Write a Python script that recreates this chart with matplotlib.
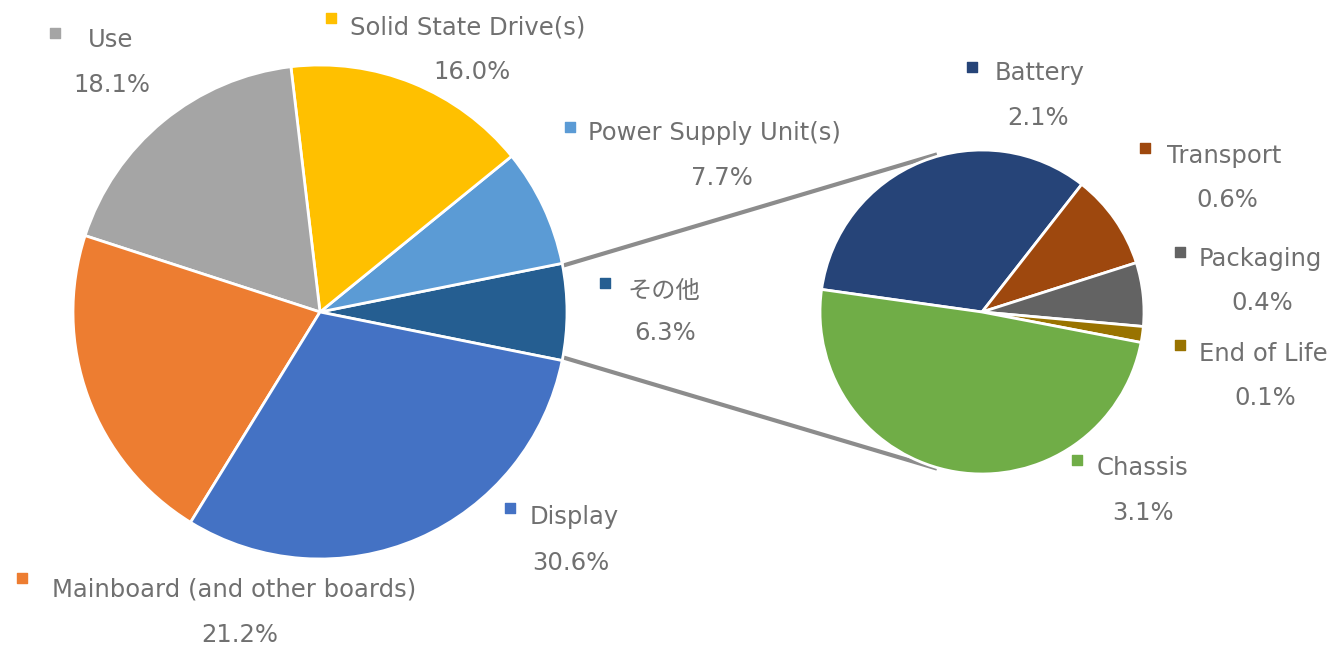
import matplotlib
matplotlib.use("Agg")
import matplotlib.pyplot as plt

plt.rcParams['font.family'] = ['DejaVu Sans', 'Noto Sans CJK JP']

# main pie (counter-clockwise from the right)
main_labels = ["その他", "Power Supply Unit(s)", "Solid State Drive(s)", "Use",
               "Mainboard (and other boards)", "Display"]
main_values = [6.3, 7.7, 16.0, 18.1, 21.2, 30.6]
main_colors = ["#255E91", "#5B9BD5", "#FFC000", "#A5A5A5", "#ED7D31", "#4472C4"]

# breakdown of "その他" (clockwise)
sub_labels = ["Battery", "Transport", "Packaging", "End of Life", "Chassis"]
sub_values = [2.1, 0.6, 0.4, 0.1, 3.1]
sub_colors = ["#264478", "#9E480E", "#636363", "#997300", "#70AD47"]

W, H = 1337, 650
fig = plt.figure(figsize=(W / 100, H / 100), dpi=100)
ax = fig.add_axes([0, 0, 1, 1])
ax.set_xlim(0, W)
ax.set_ylim(0, H)
ax.set_aspect("equal")
ax.axis("off")

def py(y):
    # pixel row -> data y
    return H - y

main_c = (320, py(312))
sub_c = (982, py(312))
main_r = 247
sub_r = 162

start = -main_values[0] / 2 * 3.6
ax.pie(main_values, colors=main_colors, center=main_c, radius=main_r,
       startangle=start, counterclock=True,
       wedgeprops=dict(edgecolor="white", linewidth=2))
ax.pie(sub_values, colors=sub_colors, center=sub_c, radius=sub_r,
       startangle=172, counterclock=False,
       wedgeprops=dict(edgecolor="white", linewidth=2))
ax.set_xlim(0, W)
ax.set_ylim(0, H)

# connector lines
ax.plot([565, 935], [py(265), py(155)], color="#8c8c8c", lw=3, zorder=0)
ax.plot([565, 935], [py(358), py(468)], color="#8c8c8c", lw=3, zorder=0)

txt = "#707070"
fs = 17.5
# (marker x, marker y, text x, text y, pct x, pct y)
main_pos = {
    "その他": (605, 283, 627, 291, 665, 333),
    "Power Supply Unit(s)": (570, 127, 588, 133, 722, 178),
    "Solid State Drive(s)": (331, 18, 350, 28, 472, 72),
    "Use": (55, 33, 88, 40, 112, 85),
    "Mainboard (and other boards)": (22, 578, 52, 590, 240, 635),
    "Display": (510, 508, 530, 517, 571, 563),
}
sub_pos = {
    "Battery": (972, 67, 995, 73, 1038, 118),
    "Transport": (1145, 148, 1167, 156, 1227, 200),
    "Packaging": (1180, 252, 1199, 259, 1262, 303),
    "End of Life": (1180, 345, 1199, 354, 1265, 398),
    "Chassis": (1077, 460, 1097, 468, 1143, 513),
}

def put_label(name, value, color, pos):
    mx, my, tx, ty, px, pyy = pos
    ax.scatter([mx], [py(my)], marker="s", s=60, color=color, zorder=5)
    ax.text(tx, py(ty), name, fontsize=fs, color=txt, ha="left", va="center")
    ax.text(px, py(pyy), f"{value:.1f}%", fontsize=fs, color=txt,
            ha="center", va="center")

for n, v, c in zip(main_labels, main_values, main_colors):
    put_label(n, v, c, main_pos[n])
for n, v, c in zip(sub_labels, sub_values, sub_colors):
    put_label(n, v, c, sub_pos[n])

fig.savefig("out.png", dpi=100, facecolor="white")
